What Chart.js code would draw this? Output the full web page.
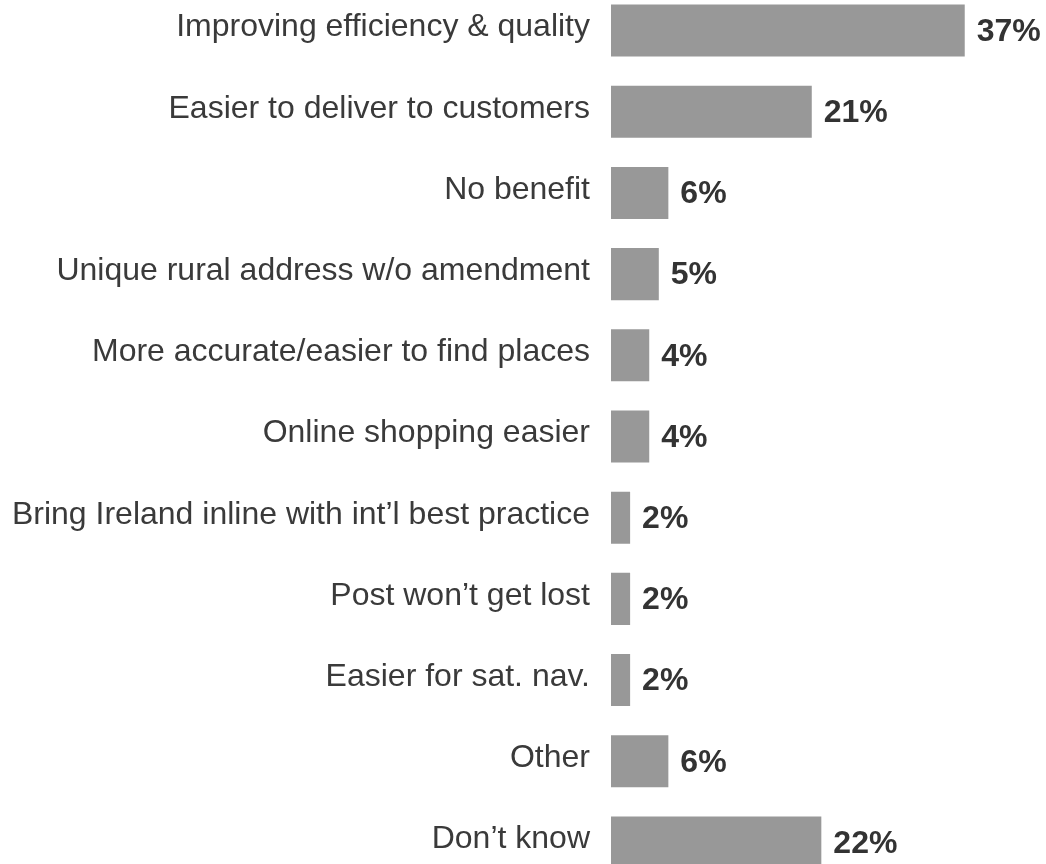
<!DOCTYPE html>
<html>
<head>
<meta charset="utf-8">
<script src="https://cdn.jsdelivr.net/npm/chart.js@4"></script>
<style>
  html, body { margin: 0; padding: 0; background: #fff; overflow: hidden; }
  body { width: 1046px; height: 864px; position: relative; }
  #wrap { position: absolute; left: 0; top: -10px; width: 1046px; height: 893px; }
</style>
</head>
<body>
<div id="wrap"><canvas id="benefitChart"></canvas></div>
<script>
// === DATA ===
const categories = [
    'Improving efficiency & quality',
    'Easier to deliver to customers',
    'No benefit',
    'Unique rural address w/o amendment',
    'More accurate/easier to find places',
    'Online shopping easier',
    'Bring Ireland inline with int\u2019l best practice',
    'Post won\u2019t get lost',
    'Easier for sat. nav.',
    'Other',
    'Don\u2019t know'
];
const shares = [37, 21, 6, 5, 4, 4, 2, 2, 2, 6, 22];

const FONT = '"Liberation Sans", Arial, sans-serif';

// value labels to the right of each bar
const valueLabels = {
    id: 'valueLabels',
    afterDatasetsDraw(chart){
        const ctx = chart.ctx;
        const meta = chart.getDatasetMeta(0);
        ctx.save();
        ctx.font = 'bold 32px ' + FONT;
        ctx.fillStyle = '#333333';
        ctx.textAlign = 'left';
        ctx.textBaseline = 'middle';
        meta.data.forEach((bar, i)=>{
            ctx.fillText(shares[i] + '%', bar.x + 12, bar.y + 1.5);
        });
        ctx.restore();
    }
};

const ctx = document.getElementById('benefitChart').getContext('2d');
new Chart(ctx, {
    type: 'bar',
    data: {
        labels: categories,
        datasets: [{
            data: shares,
            backgroundColor: '#989898',
            borderWidth: 0,
            barPercentage: 1,
            categoryPercentage: 0.641
        }]
    },
    options: {
        indexAxis: 'y',
        responsive: true,
        maintainAspectRatio: false,
        animation: false,
        layout: { padding: 0 },
        plugins: { legend: { display: false }, tooltip: { enabled: false } },
        scales: {
            x: {
                min: 0, max: 45.5,
                display: false
            },
            y: {
                grid: { display: false, drawTicks: false },
                border: { display: false },
                ticks: {
                    color: '#3a3a3a',
                    font: { family: FONT, size: 32 },
                    padding: 21,
                    labelOffset: -3
                },
                afterFit(scale){
                    // fixed label column, no extra room above/below the rows
                    scale.width = 611;
                    scale.paddingTop = 0;
                    scale.paddingBottom = 0;
                }
            }
        }
    },
    plugins: [valueLabels]
});
</script>
</body>
</html>
